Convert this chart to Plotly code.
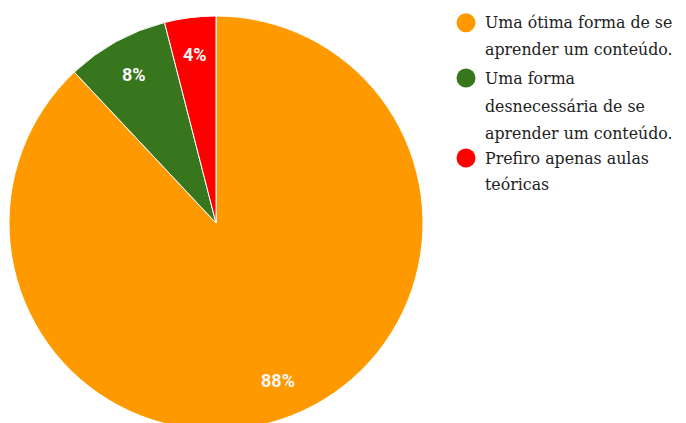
import math
import plotly.graph_objects as go

labels = ["Uma ótima forma de se aprender um conteúdo.",
          "Uma forma desnecessária de se aprender um conteúdo.",
          "Prefiro apenas aulas teóricas"]
legend_lines = [["Uma ótima forma de se", "aprender um conteúdo."],
                ["Uma forma", "desnecessária de se", "aprender um conteúdo."],
                ["Prefiro apenas aulas", "teóricas"]]
values = [88, 8, 4]
colors = ["#ff9900", "#38761d", "#ff0000"]

W, H = 686, 422
CX, CY, R = 208, 215, 207   # pie centre/radius in figure pixels


def px(x):
    return x / W


def py(y):
    return 1 - y / H


fig = go.Figure()
fig.add_trace(go.Pie(
    labels=labels, values=values, sort=False, direction="clockwise", rotation=0,
    marker=dict(colors=colors, line=dict(color="white", width=1)),
    textinfo="none", showlegend=False, hoverinfo="label+percent",
    domain=dict(x=[(CX - R) / W, (CX + R) / W], y=[py(CY + R), py(CY - R)]),
))

annotations = []
shapes = []
total = sum(values)
cum = 0
for v in values:
    mid = (cum + v / 2) / total * 2 * math.pi
    cum += v
    rr = 0.82 * R
    annotations.append(dict(
        x=px(CX + rr * math.sin(mid)), y=py(CY - rr * math.cos(mid)),
        xref="paper", yref="paper", text=f"{round(v / total * 100)}%",
        showarrow=False, xanchor="center", yanchor="middle",
        font=dict(family="Roboto", size=18, color="#f7f7f7", weight="bold")))

line_y = [[14.7, 41.3], [70, 98, 125], [150, 177]]
for lines, ys, c in zip(legend_lines, line_y, colors):
    shapes.append(dict(type="circle", xref="paper", yref="paper",
                       x0=px(458 - 9.5), x1=px(458 + 9.5),
                       y0=py(ys[0] + 9.5), y1=py(ys[0] - 9.5),
                       fillcolor=c, line=dict(width=0)))
    for t, yy in zip(lines, ys):
        annotations.append(dict(
            x=px(475), y=py(yy), xref="paper", yref="paper", text=t,
            showarrow=False, xanchor="left", yanchor="middle",
            font=dict(family="DejaVu Serif, Liberation Serif, serif", size=15.8, color="#222222")))

fig.update_layout(
    width=W, height=H, margin=dict(l=0, r=0, t=0, b=0),
    paper_bgcolor="white", plot_bgcolor="white",
    annotations=annotations, shapes=shapes,
)
fig.write_html("out.html")
